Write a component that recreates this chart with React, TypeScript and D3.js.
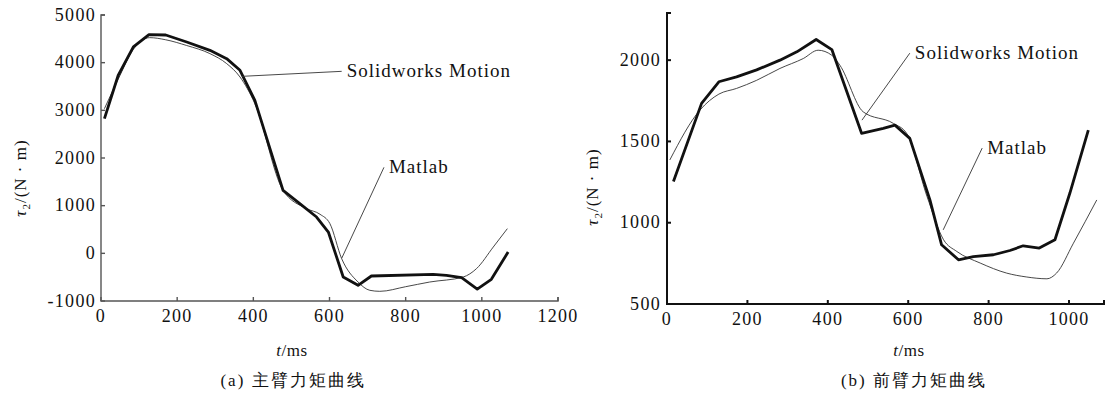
import React from 'react';
import * as d3 from 'd3';

// (a) main arm torque, time in ms
const aThickT = [9, 45, 85, 126, 170, 225, 286, 330, 365, 404, 478, 522, 566, 597, 636, 675, 710, 872, 907, 947, 988, 1025, 1069];
const aThickV = [2826, 3731, 4330, 4590, 4580, 4433, 4258, 4084, 3840, 3210, 1322, 1043, 762, 447, -497, -671, -476, -440, -461, -510, -749, -545, 27];
const aThinT = [9, 45, 85, 128, 170, 225, 286, 330, 365, 404, 478, 540, 575, 601, 632, 675, 706, 732, 800, 863, 951, 986, 1030, 1067];
const aThinV = [3035, 3650, 4280, 4525, 4480, 4360, 4190, 3980, 3699, 3140, 1322, 938, 820, 624, -112, -602, -776, -797, -700, -602, -497, -321, 132, 518];

// (b) forearm torque
const bThickT = [16, 86, 129, 173, 223, 281, 323, 371, 410, 484, 538, 567, 604, 654, 683, 725, 762, 812, 853, 886, 926, 965, 1002, 1048];
const bThickV = [1253, 1734, 1867, 1897, 1940, 2000, 2051, 2127, 2065, 1550, 1580, 1600, 1519, 1140, 864, 772, 792, 803, 829, 858, 844, 895, 1181, 1570];
const bThinT = [7, 82, 129, 173, 223, 281, 339, 376, 410, 430, 488, 563, 596, 647, 688, 721, 779, 845, 895, 945, 969, 1011, 1069];
const bThinV = [1386, 1693, 1791, 1826, 1876, 1949, 2010, 2061, 2030, 1969, 1682, 1611, 1550, 1160, 895, 823, 752, 690, 666, 655, 690, 874, 1140];

const aXTicks = [0, 200, 400, 600, 800, 1000, 1200];
const aYTicks = [-1000, 0, 1000, 2000, 3000, 4000, 5000];
const bXTicks = [0, 200, 400, 600, 800, 1000];
const bYTicks = [500, 1000, 1500, 2000];

// annotation: [pointT, pointV, elbowT, elbowV, label]
const aNotes = [
  [370, 3713, 632, 3818, 'Solidworks Motion'],
  [632, -105, 743, 1804, 'Matlab'],
];
const bNotes = [
  [485, 1631, 604, 2043, 'Solidworks Motion'],
  [687, 956, 784, 1459, 'Matlab'],
];

const FONT = 'Liberation Serif';
const INK = '#111';
const TICK = 4;

function Panel({ x, y, xTicks, yTicks, xPad, yPad, axisColor, axisWidth, thickT, thickV, thinT, thinV, notes, yLabelX, yLabelY, xLabelX, captionX, caption }) {
  const [x0, x1] = x.range();
  const [y0, y1] = y.range();
  const line = d3.line().x((d) => x(d[0])).y((d) => y(d[1]));
  const thinPath = line.curve(d3.curveMonotoneX)(d3.zip(thinT, thinV));
  const thickPath = line.curve(d3.curveLinear)(d3.zip(thickT, thickV));

  return (
    <g fontFamily={FONT} fill={INK}>
      {/* axes */}
      <path
        d={`M${x0 + TICK},${y1}H${x0}V${y0}H${x1}V${y0 - TICK}`}
        fill="none"
        stroke={axisColor}
        strokeWidth={axisWidth}
      />
      {xTicks.map((t) => (
        <g key={`x${t}`} transform={`translate(${x(t)},${y0})`}>
          <line y2={-TICK} stroke={axisColor} strokeWidth={axisWidth} />
          <text y={xPad} dy="0.71em" textAnchor="middle" fontSize={18} letterSpacing={1.3}>
            {t}
          </text>
        </g>
      ))}
      {yTicks.map((v) => (
        <g key={`y${v}`} transform={`translate(${x0},${y(v)})`}>
          <line x2={TICK} stroke={axisColor} strokeWidth={axisWidth} />
          <text x={-yPad} dy="0.32em" textAnchor="end" fontSize={18} letterSpacing={1.3}>
            {v}
          </text>
        </g>
      ))}

      {/* curves */}
      <path d={thinPath} fill="none" stroke="#333" strokeWidth={0.9} />
      <path d={thickPath} fill="none" stroke="#111" strokeWidth={2.8} strokeLinejoin="round" />

      {/* leader notes */}
      {notes.map(([t0, v0, t1, v1, label]) => (
        <g key={label}>
          <line x1={x(t0)} y1={y(v0)} x2={x(t1)} y2={y(v1)} stroke="#333" strokeWidth={0.9} />
          <text x={x(t1) + 5} y={y(v1) + 6} fontSize={19} letterSpacing={1}>
            {label}
          </text>
        </g>
      ))}

      {/* axis titles */}
      <text transform={`translate(${yLabelX},${yLabelY}) rotate(-90)`} textAnchor="middle" fontSize={17} letterSpacing={1}>
        <tspan fontStyle="italic">τ</tspan>
        <tspan dy={4} fontSize={11}>2</tspan>
        <tspan dy={-4}>/(N · m)</tspan>
      </text>
      <text x={xLabelX} y={356} textAnchor="middle" fontSize={17} letterSpacing={0.5}>
        <tspan fontStyle="italic">t</tspan>
        <tspan>/ms</tspan>
      </text>
      <text x={captionX} y={386} textAnchor="middle" fontSize={17} letterSpacing={2}>
        {caption}
      </text>
    </g>
  );
}

export default function App() {
  return (
    <svg width={1113} height={394} style={{ position: 'absolute', left: 0, top: 0, background: '#fff' }}>
      <Panel
        x={d3.scaleLinear().domain([0, 1200]).range([101, 558])}
        y={d3.scaleLinear().domain([-1000, 5000]).range([301, 15])}
        xTicks={aXTicks}
        yTicks={aYTicks}
        xPad={8}
        yPad={5}
        axisColor="#555"
        axisWidth={1.4}
        thickT={aThickT}
        thickV={aThickV}
        thinT={aThinT}
        thinV={aThinV}
        notes={aNotes}
        yLabelX={26}
        yLabelY={178}
        xLabelX={292}
        captionX={293}
        caption="(a) 主臂力矩曲线"
      />
      <Panel
        x={d3.scaleLinear().domain([0, 1087]).range([667, 1104])}
        y={d3.scaleLinear().domain([500, 2290]).range([304, 13])}
        xTicks={bXTicks}
        yTicks={bYTicks}
        xPad={8}
        yPad={6}
        axisColor="#111"
        axisWidth={2}
        thickT={bThickT}
        thickV={bThickV}
        thinT={bThinT}
        thinV={bThinV}
        notes={bNotes}
        yLabelX={598}
        yLabelY={187}
        xLabelX={909}
        captionX={914}
        caption="(b) 前臂力矩曲线"
      />
    </svg>
  );
}
